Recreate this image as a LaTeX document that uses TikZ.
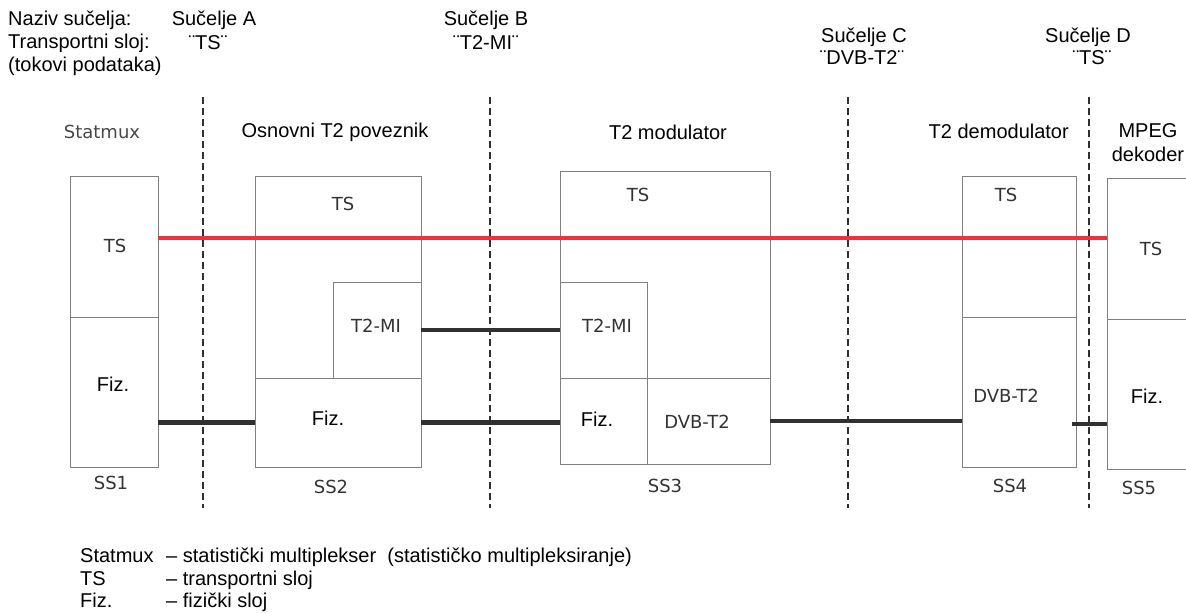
\documentclass[tikz,border=0pt]{standalone}
\usepackage{fontspec}
\setmainfont{Liberation Sans}
\newfontfamily\lblfont{DejaVu Sans}
\definecolor{okvir}{HTML}{808080}
\definecolor{natpis}{HTML}{333333}
\definecolor{crvena}{HTML}{EE3338}
\definecolor{tamna}{HTML}{303030}
\begin{document}
\begin{tikzpicture}[
        x=1pt, y=-1pt,
        blok/.style={rectangle, draw=okvir, line width=1pt, inner sep=0pt, outer sep=0pt},
        lbl/.style={inner sep=0pt, text=natpis, font=\lblfont\fontsize{18}{21}\selectfont},
        fiz/.style={inner sep=0pt, font=\fontsize{20}{23}\selectfont},
        txt/.style={inner sep=0pt, font=\fontsize{20}{23}\selectfont},
        sucelje/.style={dash pattern=on 7pt off 4pt, line width=1.6pt, tamna},
        tsveza/.style={line width=4pt, crvena},
        veza/.style={line width=4.5pt, tamna}
    ]
        \useasboundingbox (0,0) rectangle (1186,613);

        % Header
        \node[txt, anchor=west] (naziv) at (8,20) {Naziv sučelja:};
        \node[txt, anchor=west] (sloj) at (8,43) {Transportni sloj:};
        \node[txt, anchor=west] (tokovi) at (8,66) {(tokovi podataka)};
        \node[txt] (sA) at (214,20) {Sučelje A};
        \node[txt] (sAts) at (208,43) {¨TS¨};
        \node[txt] (sB) at (486,20) {Sučelje B};
        \node[txt] (sBmi) at (486,43) {¨T2-MI¨};
        \node[txt] (sC) at (864,37) {Sučelje C};
        \node[txt] (sCdvb) at (862,58) {¨DVB-T2¨};
        \node[txt] (sD) at (1088,37) {Sučelje D};
        \node[txt] (sDts) at (1092,58) {¨TS¨};

        % Block titles
        \node[lbl, text=natpis!90] (statmux) at (102,132) {Statmux};
        \node[txt] (poveznik) at (335,132) {Osnovni T2 poveznik};
        \node[txt] (modulator) at (668,132) {T2 modulator};
        \node[txt, anchor=east] (demodulator) at (1069,131) {T2 demodulator};
        \node[txt] (mpeg) at (1148,131) {MPEG};
        \node[txt] (dekoder) at (1148,154) {dekoder};

        % SS1
        \node[blok, minimum width=88pt, minimum height=141pt] (ss1ts) at (114,246.5) {};
        \node[blok, minimum width=88pt, minimum height=150pt] (ss1fiz) at (114,392) {};
        % SS2
        \node[blok, minimum width=166pt, minimum height=291pt] (ss2) at (338,321.5) {};
        \node[blok, minimum width=88pt, minimum height=96pt] (ss2mi) at (377,330) {};
        \node[blok, minimum width=166pt, minimum height=89pt] (ss2fiz) at (338,422.5) {};
        % SS3
        \node[blok, minimum width=210pt, minimum height=293pt] (ss3) at (665,317.5) {};
        \node[blok, minimum width=87pt, minimum height=96pt] (ss3mi) at (603.5,330) {};
        \node[blok, minimum width=87pt, minimum height=86pt] (ss3fiz) at (603.5,421) {};
        \node[blok, minimum width=123pt, minimum height=86pt] (ss3dvb) at (708.5,421) {};
        % SS4
        \node[blok, minimum width=114pt, minimum height=141pt] (ss4ts) at (1019,246.5) {};
        \node[blok, minimum width=114pt, minimum height=150pt] (ss4dvb) at (1019,392) {};
        % SS5
        \node[blok, minimum width=88pt, minimum height=141pt] (ss5ts) at (1151,248.5) {};
        \node[blok, minimum width=88pt, minimum height=150pt] (ss5fiz) at (1151,394) {};

        % Layer labels
        \node[lbl] (t1) at (115,246) {TS};
        \node[fiz] (f1) at (113,384) {Fiz.};
        \node[lbl] (t2) at (343,204) {TS};
        \node[lbl] (m2) at (376,326) {T2-MI};
        \node[fiz] (f2) at (328,418) {Fiz.};
        \node[lbl] (t3) at (638,195) {TS};
        \node[lbl] (m3) at (607,326) {T2-MI};
        \node[fiz] (f3) at (597,419) {Fiz.};
        \node[lbl] (d3) at (697,422) {DVB-T2};
        \node[lbl] (t4) at (1006,195) {TS};
        \node[lbl] (d4) at (1006,396) {DVB-T2};
        \node[lbl] (t5) at (1151,249) {TS};
        \node[fiz] (f5) at (1147,396) {Fiz.};

        % Subsystem names
        \node[lbl] (n1) at (111,483) {SS1};
        \node[lbl] (n2) at (331,487) {SS2};
        \node[lbl] (n3) at (665,486) {SS3};
        \node[lbl] (n4) at (1010,486) {SS4};
        \node[lbl] (n5) at (1139,488) {SS5};

        % TS stream end to end
        \draw[tsveza] ([yshift=8.5pt]ss1ts.east) -- ([yshift=10.5pt]ss5ts.west);

        % Links between layers
        \draw[veza] (ss2fiz.west -| ss1fiz.east) -- (ss2fiz.west);
        \draw[veza] (ss2mi.east) -- (ss3mi.west);
        \draw[veza] (ss2fiz.east) -- (ss2fiz.east -| ss3fiz.west);
        \draw[veza] (ss3dvb.east) -- (ss3dvb.east -| ss4dvb.west);
        \draw[veza] ([xshift=-4pt,yshift=-32pt]ss4dvb.east) -- ([yshift=-30pt]ss5fiz.west);

        % Interfaces
        \draw[sucelje] (203,97) -- (203,508);
        \draw[sucelje] (490,97) -- (490,508);
        \draw[sucelje] (848,97) -- (848,508);
        \draw[sucelje] (1089,97) -- (1089,508);

        % Legend
        \node[txt, anchor=base west] (lg1) at (80,562) {Statmux};
        \node[txt, anchor=base west] (lg1d) at (166,562) {– statistički multiplekser \ (statističko multipleksiranje)};
        \node[txt, anchor=base west] (lg2) at (80,585) {TS};
        \node[txt, anchor=base west] (lg2d) at (166,585) {– transportni sloj};
        \node[txt, anchor=base west] (lg3) at (80,607) {Fiz.};
        \node[txt, anchor=base west] (lg3d) at (166,607) {– fizički sloj};

    \end{tikzpicture}
\end{document}
